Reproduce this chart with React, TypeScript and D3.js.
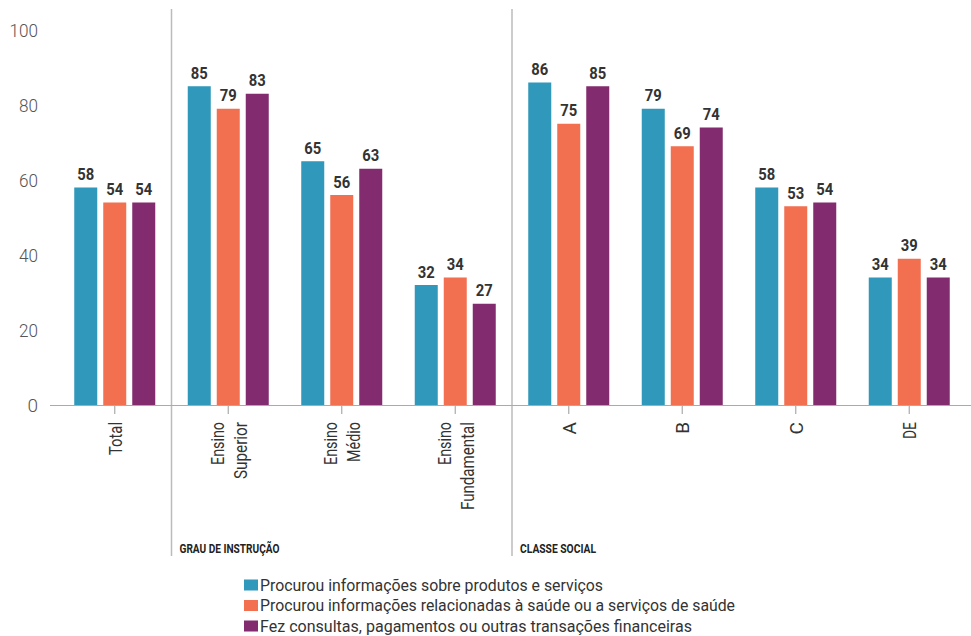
import React from "react";
import * as d3 from "d3";

const categories = ["Total", "Ensino Superior", "Ensino Médio", "Ensino Fundamental", "A", "B", "C", "DE"];
const categoryLines = [["Total"], ["Ensino", "Superior"], ["Ensino", "Médio"], ["Ensino", "Fundamental"], ["A"], ["B"], ["C"], ["DE"]];
const seriesNames = [
  "Procurou informações sobre produtos e serviços",
  "Procurou informações relacionadas à saúde ou a serviços de saúde",
  "Fez consultas, pagamentos ou outras transações financeiras",
];
const seriesColors = ["#2F98BB", "#F26F50", "#832B6F"];
const produtos = [58, 85, 65, 32, 86, 79, 58, 34];
const saude = [54, 79, 56, 34, 75, 69, 53, 39];
const financeiras = [54, 83, 63, 27, 85, 74, 54, 34];
const seriesValues = [produtos, saude, financeiras];
const yTicks = [0, 20, 40, 60, 80, 100];
const groups = [
  { label: "GRAU DE INSTRUÇÃO", first: "Ensino Superior" },
  { label: "CLASSE SOCIAL", first: "A" },
];

const FONT = "Roboto, 'DejaVu Sans Condensed', sans-serif";

// rendered widths of the condensed reference font, used to squeeze Roboto
const labelWidths: Record<string, number> = {
  Total: 33, Ensino: 43, Superior: 57, "Médio": 40, Fundamental: 88, DE: 17,
};
const squeeze = (s: string, perChar: number) =>
  s.length > 1 ? { textLength: s.length * perChar, lengthAdjust: "spacingAndGlyphs" as const } : {};

export default function App() {
  const W = 971, H = 636;
  const y = d3.scaleLinear().domain([0, 100]).range([405, 30]);
  const x = d3.scaleBand().domain(categories).range([58, 966]).padding(0);
  const inner = d3.scaleBand<number>().domain([0, 1, 2]).range([0, 81]).paddingInner(6 / 29).paddingOuter(0);
  const bw = inner.bandwidth();
  const legendLengths = [343, 475, 432];
  const groupLengths = [100, 76];

  return (
    <svg width={W} height={H} style={{ position: "absolute", left: 0, top: 0, fontFamily: FONT }}>
      <rect width={W} height={H} fill="#fff" />
      {yTicks.map((t) => (
        <text key={t} x={38} y={y(t)} dy="0.36em" textAnchor="end" fontSize={19} fill="#555" fontWeight={300}
          {...squeeze(String(t), 9.5)}>
          {t}
        </text>
      ))}
      {groups.map((g) => (
        <line key={g.label} x1={x(g.first)!} x2={x(g.first)!} y1={9} y2={556} stroke="#bbb" strokeWidth={1.5} />
      ))}
      {categories.map((c, ci) => {
        const cx = x(c)! + x.bandwidth() / 2 - 40.5;
        return (
          <g key={c}>
            {seriesValues.map((vals, si) => (
              <g key={si}>
                <rect x={cx + inner(si)!} y={y(vals[ci])} width={bw} height={y(0) - y(vals[ci])} fill={seriesColors[si]} />
                <text x={cx + inner(si)! + bw / 2} y={y(vals[ci]) - 7.5} textAnchor="middle" fontSize={17} fontWeight={700} fill="#333"
                  {...squeeze(String(vals[ci]), 8.5)}>
                  {vals[ci]}
                </text>
              </g>
            ))}
          </g>
        );
      })}
      <line x1={50} x2={971} y1={405.5} y2={405.5} stroke="#aaa" strokeWidth={1.2} />
      {categories.map((c, ci) => {
        const cx = x(c)! + x.bandwidth() / 2;
        const lines = categoryLines[ci];
        return (
          <g key={c}>
            <line x1={cx} x2={cx} y1={405} y2={414} stroke="#aaa" strokeWidth={1.2} />
            {lines.map((ln, li) => {
              const w = labelWidths[ln];
              return (
                <text
                  key={li}
                  transform={`translate(${cx + (li - (lines.length - 1) / 2) * 23},${422}) rotate(-90)`}
                  textAnchor="end"
                  dy="0.36em"
                  fontSize={19}
                  fill="#333"
                  {...(w ? { textLength: w, lengthAdjust: "spacingAndGlyphs" } : {})}
                >
                  {ln}
                </text>
              );
            })}
          </g>
        );
      })}
      {groups.map((g, gi) => (
        <text key={g.label} x={x(g.first)! + 8} y={553} fontSize={13} fontWeight={700} fill="#222"
          textLength={groupLengths[gi]} lengthAdjust="spacingAndGlyphs">
          {g.label}
        </text>
      ))}
      {seriesNames.map((n, i) => (
        <g key={n} transform={`translate(244,${590.5 + i * 20.5})`}>
          <rect x={0} y={-11} width={14} height={11} fill={seriesColors[i]} />
          <text x={16} y={0} fontSize={17} fill="#333"
            textLength={legendLengths[i]} lengthAdjust="spacingAndGlyphs">
            {n}
          </text>
        </g>
      ))}
    </svg>
  );
}
